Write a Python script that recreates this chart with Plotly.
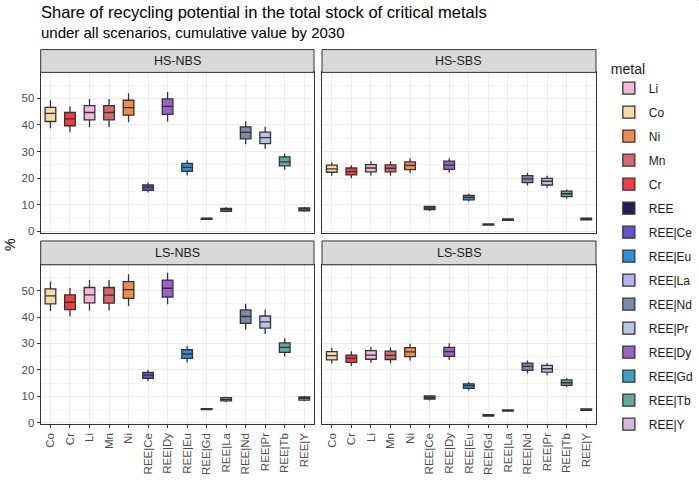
import plotly.graph_objects as go

categories = ["Co", "Cr", "Li", "Mn", "Ni", "REE|Ce", "REE|Dy", "REE|Eu",
              "REE|Gd", "REE|La", "REE|Nd", "REE|Pr", "REE|Tb", "REE|Y"]

legend_order = ["Li", "Co", "Ni", "Mn", "Cr", "REE", "REE|Ce", "REE|Eu", "REE|La",
                "REE|Nd", "REE|Pr", "REE|Dy", "REE|Gd", "REE|Tb", "REE|Y"]

metal_colors = {
    "Li": "#f5b8da", "Co": "#f6dca2", "Ni": "#f28a4c", "Mn": "#d9666e",
    "Cr": "#f63a42", "REE": "#1c1f5c", "REE|Ce": "#6a50d6", "REE|Eu": "#2c8fd8",
    "REE|La": "#b4b2f0", "REE|Nd": "#7c89a9", "REE|Pr": "#b8c5e6",
    "REE|Dy": "#9a62c8", "REE|Gd": "#40a1c2", "REE|Tb": "#60a99f", "REE|Y": "#d8b6e2",
}

scenarios = ["HS-NBS", "HS-SBS", "LS-NBS", "LS-SBS"]

# HS-NBS
hs_nbs_low = [38.8, 37.3, 39.2, 39.2, 41.0, 14.6, 41.3, 21.1, 4.4, 7.1, 32.7, 31.0, 23.1, 7.3]
hs_nbs_q1  = [41.3, 39.7, 41.9, 41.9, 43.7, 15.4, 44.0, 22.5, 4.5, 7.5, 34.8, 33.0, 24.6, 7.7]
hs_nbs_med = [44.4, 42.3, 44.7, 44.7, 46.5, 16.5, 47.0, 24.0, 4.7, 8.1, 37.2, 35.2, 26.1, 8.3]
hs_nbs_q3  = [46.6, 44.7, 47.3, 47.3, 49.3, 17.4, 49.8, 25.5, 4.9, 8.6, 39.3, 37.3, 28.0, 8.8]
hs_nbs_up  = [49.3, 47.0, 49.8, 49.8, 51.9, 18.3, 52.4, 26.7, 5.0, 9.0, 41.4, 39.3, 29.2, 9.1]

# HS-SBS
hs_sbs_low = [20.9, 19.9, 21.0, 20.9, 21.9, 7.6, 22.0, 11.2, 2.1, 3.9, 17.2, 16.4, 12.2, 4.1]
hs_sbs_q1  = [22.2, 21.2, 22.3, 22.3, 23.2, 8.1, 23.3, 11.8, 2.3, 4.1, 18.3, 17.4, 13.0, 4.3]
hs_sbs_med = [23.5, 22.4, 23.8, 23.7, 24.8, 8.7, 24.9, 12.7, 2.5, 4.4, 19.7, 18.8, 14.1, 4.6]
hs_sbs_q3  = [24.9, 23.8, 25.1, 25.0, 26.1, 9.3, 26.4, 13.5, 2.7, 4.6, 20.9, 19.9, 15.1, 4.9]
hs_sbs_up  = [26.0, 24.8, 26.3, 26.3, 27.5, 9.6, 27.5, 14.1, 2.9, 4.8, 22.0, 20.9, 15.7, 5.1]

# LS-NBS
ls_nbs_low = [42.3, 40.2, 42.5, 42.5, 44.2, 15.7, 44.8, 22.8, 4.7, 7.7, 35.3, 33.6, 25.0, 8.1]
ls_nbs_q1  = [45.0, 42.8, 45.4, 45.3, 47.1, 16.8, 47.6, 24.3, 4.9, 8.2, 37.6, 35.8, 26.6, 8.5]
ls_nbs_med = [48.0, 45.6, 48.4, 48.3, 50.4, 18.0, 50.9, 26.0, 5.1, 8.8, 40.2, 38.2, 28.5, 9.2]
ls_nbs_q3  = [50.7, 48.4, 51.2, 51.2, 53.4, 19.0, 54.0, 27.6, 5.3, 9.5, 42.7, 40.4, 30.2, 9.7]
ls_nbs_up  = [53.5, 51.0, 54.0, 54.0, 56.2, 20.0, 56.8, 29.0, 5.5, 9.8, 45.0, 42.8, 32.0, 10.1]

# LS-SBS
ls_sbs_low = [22.4, 21.4, 22.7, 22.5, 23.5, 8.4, 23.7, 12.2, 2.3, 4.1, 18.6, 17.9, 13.5, 4.4]
ls_sbs_q1  = [23.8, 22.8, 24.0, 23.9, 25.0, 8.9, 25.1, 13.0, 2.5, 4.4, 19.8, 19.1, 14.1, 4.6]
ls_sbs_med = [25.4, 24.3, 25.6, 25.5, 26.8, 9.5, 26.9, 14.0, 2.8, 4.6, 21.3, 20.4, 15.1, 4.9]
ls_sbs_q3  = [26.9, 25.6, 27.3, 27.1, 28.4, 10.1, 28.5, 14.7, 3.0, 4.8, 22.5, 21.7, 16.2, 5.2]
ls_sbs_up  = [28.4, 27.0, 28.6, 28.5, 29.9, 10.3, 30.1, 15.4, 3.1, 5.0, 23.5, 22.5, 16.8, 5.4]

panel_data = [
    (hs_nbs_low, hs_nbs_q1, hs_nbs_med, hs_nbs_q3, hs_nbs_up),
    (hs_sbs_low, hs_sbs_q1, hs_sbs_med, hs_sbs_q3, hs_sbs_up),
    (ls_nbs_low, ls_nbs_q1, ls_nbs_med, ls_nbs_q3, ls_nbs_up),
    (ls_sbs_low, ls_sbs_q1, ls_sbs_med, ls_sbs_q3, ls_sbs_up),
]

W, H = 699, 482
FONT = "Liberation Sans, Arial, sans-serif"

# panel pixel boxes (x0, x1, y0_top, y1_bottom) and strips
px_x = [(40.7, 314.0), (322.0, 596.0), (40.7, 314.0), (322.0, 596.0)]
px_y = [(73.0, 235.0), (73.0, 235.0), (267.0, 428.0), (267.0, 428.0)]
strip_y = [(50.0, 73.0), (50.0, 73.0), (243.0, 267.0), (243.0, 267.0)]

fig = go.Figure()

for p in range(4):
    low, q1, med, q3, up = panel_data[p]
    ax = "" if p == 0 else str(p + 1)
    for i, cat in enumerate(categories):
        fig.add_trace(go.Box(
            x=[cat], q1=[q1[i]], median=[med[i]], q3=[q3[i]],
            lowerfence=[low[i]], upperfence=[up[i]],
            name=cat, legendgroup=cat, showlegend=(p == 0),
            legendrank=legend_order.index(cat) + 1,
            fillcolor=metal_colors[cat],
            line=dict(color="#333333", width=1.3),
            boxpoints=False, whiskerwidth=0,
            xaxis="x" + ax, yaxis="y" + ax,
            hoverinfo="skip",
        ))

# legend-only entry for REE (not present in data panels)
fig.add_trace(go.Box(
    x=["REE"], q1=[1], median=[1.5], q3=[2], lowerfence=[0.5], upperfence=[2.5],
    name="REE", legendgroup="REE", showlegend=True,
    legendrank=legend_order.index("REE") + 1,
    fillcolor=metal_colors["REE"], line=dict(color="#333333", width=1.3),
    boxpoints=False, xaxis="x5", yaxis="y5", hoverinfo="skip",
))

layout = dict(
    width=W, height=H,
    margin=dict(l=0, r=0, t=0, b=0),
    paper_bgcolor="white", plot_bgcolor="white",
    font=dict(family=FONT, color="#1a1a1a"),
    boxgap=0.22, boxmode="overlay",
    showlegend=True,
    legend=dict(
        title=dict(text="metal", font=dict(size=14, color="#1a1a1a")),
        x=0.871, y=0.884, xanchor="left", yanchor="top",
        font=dict(size=12, color="#1a1a1a"),
        tracegroupgap=5.0, itemwidth=30,
        bgcolor="rgba(0,0,0,0)",
    ),
    shapes=[], annotations=[],
)

for p in range(4):
    ax = "" if p == 0 else str(p + 1)
    x0, x1 = px_x[p]
    yt, yb = px_y[p]
    bottom_row = p >= 2
    left_col = p in (0, 2)
    layout["xaxis" + ax] = dict(
        domain=[x0 / W, x1 / W], anchor="y" + ax,
        type="category", categoryorder="array", categoryarray=categories,
        range=[-0.5, len(categories) - 0.5],
        showgrid=True, gridcolor="#ebebeb", gridwidth=1,
        showline=True, linecolor="#333333", linewidth=1, mirror=True,
        ticks="outside" if bottom_row else "", ticklen=3, tickcolor="#333333",
        showticklabels=bottom_row, tickangle=-90,
        tickfont=dict(size=11.5, color="#4d4d4d", family=FONT),
        zeroline=False,
    )
    layout["yaxis" + ax] = dict(
        domain=[1 - yb / H, 1 - yt / H], anchor="x" + ax,
        range=[-0.7, 59.8], dtick=10, tick0=0,
        showgrid=True, gridcolor="#ebebeb", gridwidth=1,
        minor=dict(dtick=5, tick0=0, showgrid=True, gridcolor="#f4f4f4", gridwidth=0.6),
        showline=True, linecolor="#333333", linewidth=1, mirror=True,
        ticks="outside" if left_col else "", ticklen=3, tickcolor="#333333",
        showticklabels=left_col,
        tickfont=dict(size=11.5, color="#4d4d4d", family=FONT),
        zeroline=False,
    )
    sy0, sy1 = strip_y[p]
    layout["shapes"].append(dict(
        type="rect", xref="paper", yref="paper",
        x0=x0 / W, x1=x1 / W, y0=1 - sy1 / H, y1=1 - sy0 / H,
        fillcolor="#d9d9d9", line=dict(color="#333333", width=1), layer="above",
    ))
    layout["annotations"].append(dict(
        text=scenarios[p], xref="paper", yref="paper",
        x=(x0 + x1) / 2 / W, y=1 - (sy0 + sy1) / 2 / H,
        xanchor="center", yanchor="middle", showarrow=False,
        font=dict(size=12.5, color="#1a1a1a", family=FONT),
    ))

layout["xaxis5"] = dict(domain=[0.999, 1.0], visible=False, anchor="y5")
layout["yaxis5"] = dict(domain=[0.999, 1.0], visible=False, anchor="x5")

layout["annotations"] += [
    dict(text="Share of recycling potential in the total stock of critical metals",
         xref="paper", yref="paper", x=39 / W, y=1 - 12 / H,
         xanchor="left", yanchor="middle", showarrow=False,
         font=dict(size=16.5, color="#000000", family=FONT)),
    dict(text="under all scenarios, cumulative value by 2030",
         xref="paper", yref="paper", x=39 / W, y=1 - 33 / H,
         xanchor="left", yanchor="middle", showarrow=False,
         font=dict(size=15, color="#000000", family=FONT)),
    dict(text="%", xref="paper", yref="paper", x=10 / W, y=1 - 247 / H,
         xanchor="center", yanchor="middle", showarrow=False, textangle=-90,
         font=dict(size=14, color="#000000", family=FONT)),
]

fig.update_layout(**layout)
fig.write_html("out.html", config={"displayModeBar": False},
               post_script="document.body.style.margin='0';document.body.style.overflow='hidden';")
